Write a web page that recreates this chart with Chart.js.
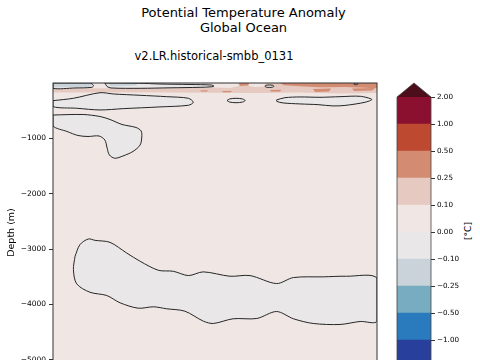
<!DOCTYPE html>
<html><head><meta charset="utf-8">
<script src="https://cdn.jsdelivr.net/npm/chart.js@4.4.1/dist/chart.umd.min.js"></script>
<style>
html,body{margin:0;padding:0;width:480px;height:360px;overflow:hidden;background:#fff;font-family:"DejaVu Sans",sans-serif;}
#main{position:absolute;left:0;top:0;}
#cbar{position:absolute;left:380px;top:0;}
.t{position:absolute;white-space:nowrap;color:#000;transform:translate(-50%,-50%);line-height:1;}
</style></head><body>
<div class="t" style="left:243.5px;top:12px;font-size:13px">Potential Temperature Anomaly</div>
<div class="t" style="left:243.5px;top:27px;font-size:13px">Global Ocean</div>
<div class="t" style="left:214px;top:57px;font-size:11.5px">v2.LR.historical-smbb_0131</div>
<div class="t" style="left:468px;top:231px;font-size:9px;transform:translate(-50%,-50%) rotate(-90deg)">[°C]</div>
<canvas id="main" width="480" height="420" style="width:480px;height:420px"></canvas>
<canvas id="cbar" width="100" height="420" style="width:100px;height:420px"></canvas>
<script>
// ---- data ----
const levels = [-2, -1, -0.5, -0.25, -0.1, 0, 0.1, 0.25, 0.5, 1, 2];
const depthTicks = [-1000, -2000, -3000, -4000, -5000];
const bandColors = ['#283f9c','#2a7bbd','#78acc0','#cad3da','#e9e7e8','#f0e7e5','#e6c9c0','#d38b72','#bd4931','#8b1030'];
const overColor = '#4c0e1a';

// regions: [x (% of record), depth (m)]
const pinkTop = [[0,-96],[29.9,-99],[49.1,-81],[50.3,0],[100,0],[100,-181],[88.6,-190],[76.2,-171],[63.9,-181],[50,-177],[36.1,-171],[20.7,-168],[8.3,-171],[0,-171]];
const gapA = [[49.1,0],[57.1,0],[57.4,-54],[54.6,-90],[49.7,-81]];
const gapB = [[60.5,0],[65.7,0],[65.1,-63],[62.3,-72],[60.5,-54]];
const warm1 = [[57.4,0],[60.5,0],[60.2,-45],[57.7,-54]];
const warm2 = [[70.1,0],[100,0],[100,-95],[96.3,-85],[90.1,-70],[82.4,-78],[76.2,-60],[71.3,-40]];
const warm3 = [[80.2,-108],[85.8,-99],[85.2,-153],[80.9,-162]];
const warm4 = [[92.3,-99],[99.4,-90],[98.5,-135],[92.9,-144]];
const warm5 = [[45.4,-135],[47.8,-132],[47.5,-153],[45.7,-155]];
const warm6 = [[52.2,-144],[55.2,-144],[54.9,-168],[52.5,-168]];
const warm7 = [[67.0,-126],[70.4,-123],[70.1,-153],[67.3,-153]];
const cool1 = [[0,0],[11.1,0],[12.0,-36],[11.1,-72],[0,-76]];
const cool2 = [[17.4,0],[26.2,0],[25.6,-45],[18.2,-63],[17.2,-40]];
const surfLeft = [[0,0],[11.4,0],[12.5,-45],[12.0,-78],[6.8,-90],[0,-96]];
const surfMid = [[16.0,0],[16.7,-63],[17.9,-90],[26.9,-96],[36.1,-87],[45.4,-78],[48.8,-69],[49.7,-54],[48.8,-36],[42.3,-27],[33.0,-18],[26.5,-4]];
const upperBand = [[0,-319],[6.3,-276],[14.5,-175],[18.6,-198],[26.9,-222],[35.1,-247],[41.8,-276],[43.3,-348],[41.8,-402],[33.0,-432],[21.7,-463],[14.5,-487],[7.3,-456],[0,-427]];
const leftBlob = [[0,-578],[9.3,-569],[14.5,-605],[17.6,-659],[21.3,-749],[25.6,-803],[27.2,-866],[27.4,-975],[26.9,-1119],[24.7,-1236],[21.6,-1318],[19.1,-1359],[17.4,-1300],[16.7,-1173],[16.0,-1029],[14.2,-957],[10.8,-966],[7.7,-948],[4.3,-875],[0,-776]];
const smallLens = [[53.7,-316],[54.5,-288],[56.5,-276],[58.5,-288],[59.3,-316],[58.5,-344],[56.5,-356],[54.5,-344]];
const rightLens = [[69.0,-306],[71.6,-265],[76.2,-252],[82.4,-258],[88.6,-247],[94.8,-240],[98.4,-297],[96.3,-348],[90.1,-405],[86.4,-414],[81.8,-391],[76.2,-378],[71.0,-360],[69.1,-333]];
const deepCore = [[6.8,-3130],[8.3,-2920],[10.9,-2817],[13.0,-2842],[17.6,-2878],[22.7,-3069],[26.9,-3220],[32.5,-3382],[37.1,-3400],[41.8,-3478],[46.4,-3411],[54.6,-3490],[60.8,-3478],[69.0,-3622],[74.2,-3514],[83.4,-3501],[90.6,-3490],[100,-3526],[100,-4301],[94.8,-4307],[88.6,-4361],[80.3,-4343],[74.2,-4258],[69.0,-4127],[62.9,-4253],[55.6,-4258],[49.5,-4343],[46.4,-4301],[40.7,-4121],[35.1,-4078],[31.0,-4042],[26.3,-4067],[20.7,-3970],[16.6,-3838],[11.4,-3779],[7.3,-3627],[6.3,-3370]];
const dotA = [[65.4,-58],[65.8,-42],[66.8,-36],[67.8,-42],[68.2,-58],[67.8,-74],[66.8,-80],[65.8,-74]];
const dotB = [[92.8,-16],[93.5,0],[94.2,-16],[93.5,-32]];

// ---- build ----
const fills = [
  {pts: pinkTop, band: 6, layer: 1},
  {pts: gapA, band: 5, layer: 2}, {pts: gapB, band: 5, layer: 2},
  {pts: warm1, band: 7, layer: 3}, {pts: warm2, band: 7, layer: 3}, {pts: warm3, band: 7, layer: 3},
  {pts: warm4, band: 7, layer: 3}, {pts: warm5, band: 7, layer: 3}, {pts: warm6, band: 7, layer: 3}, {pts: warm7, band: 7, layer: 3},
  {pts: surfLeft, band: 4, layer: 4, c: true}, {pts: surfMid, band: 4, layer: 4, c: true},
  {pts: upperBand, band: 4, layer: 4, c: true}, {pts: leftBlob, band: 4, layer: 4, c: true},
  {pts: smallLens, band: 4, layer: 4, c: true}, {pts: rightLens, band: 4, layer: 4, c: true},
  {pts: deepCore, band: 4, layer: 4, c: true}, {pts: dotA, band: 4, layer: 4, c: true}, {pts: dotB, band: 4, layer: 4, c: true},
  {pts: cool1, band: 3, layer: 5}, {pts: cool2, band: 3, layer: 5}
];
const toXY = pts => pts.concat([pts[0]]).map(p => ({x: p[0], y: p[1]}));
const datasets = [];
fills.forEach(r => {
  datasets.push({data: toXY(r.pts), showLine: true, pointRadius: 0, borderWidth: 0, borderColor: 'rgba(0,0,0,0)',
    backgroundColor: bandColors[r.band], fill: 'shape', tension: r.c ? 0.3 : 0, order: -r.layer});
  if (r.c) datasets.push({data: toXY(r.pts), showLine: true, pointRadius: 0, borderWidth: 1, borderColor: '#262626',
    fill: false, tension: 0.3, order: -10});
});
const fmtMinus = s => String(s).replace('-', '\u2212');

const bgPlugin = {id: 'bg', beforeDatasetsDraw(c) {
  const a = c.chartArea, x = c.ctx; x.save(); x.fillStyle = bandColors[5];
  x.fillRect(a.left, a.top, a.right - a.left, a.bottom - a.top); x.restore(); }};
const framePlugin = {id: 'frame', afterDatasetsDraw(c) {
  const a = c.chartArea, x = c.ctx; x.save(); x.strokeStyle = '#333'; x.lineWidth = 1;
  x.strokeRect(a.left, a.top, a.right - a.left, a.bottom - a.top); x.restore(); }};

new Chart(document.getElementById('main'), {
  type: 'scatter',
  data: {datasets},
  options: {
    responsive: false, animation: false, events: [],
    layout: {padding: {left: 0, top: 83, right: 103, bottom: 38}},
    plugins: {legend: {display: false}, tooltip: {enabled: false}},
    scales: {
      x: {type: 'linear', min: 0, max: 100, display: false},
      y: {type: 'linear', min: -5400, max: 0,
        afterFit: s => { s.width = 53; },
        afterBuildTicks: s => { s.ticks = depthTicks.map(v => ({value: v})); },
        ticks: {callback: v => fmtMinus(v), font: {family: 'DejaVu Sans', size: 7.5}, color: '#000', padding: 3},
        grid: {drawOnChartArea: false, tickLength: 4, color: '#000', lineWidth: 0.8},
        border: {display: false},
        title: {display: true, text: 'Depth (m)', font: {family: 'DejaVu Sans', size: 9.5}, color: '#000', padding: {top: 6, bottom: 0}}
      }
    }
  },
  plugins: [bgPlugin, framePlugin]
});

const cbPlugin = {id: 'cb', afterDatasetsDraw(c) {
  const a = c.chartArea, y = c.scales.y, x = c.ctx;
  const yb = y.getPixelForValue(levels.length - 1), yt = y.getPixelForValue(y.max);
  x.save();
  x.fillStyle = overColor; x.beginPath();
  x.moveTo(a.left, yb); x.lineTo((a.left + a.right) / 2, yt); x.lineTo(a.right, yb); x.closePath(); x.fill();
  x.strokeStyle = '#444'; x.lineWidth = 0.8; x.beginPath();
  x.moveTo(a.left, a.bottom + 20); x.lineTo(a.left, yb); x.lineTo((a.left + a.right) / 2, yt);
  x.lineTo(a.right, yb); x.lineTo(a.right, a.bottom + 20); x.stroke();
  x.restore(); }};

new Chart(document.getElementById('cbar'), {
  type: 'bar',
  data: {labels: [''], datasets: bandColors.map((col, i) => ({data: [[i, i + 1]], backgroundColor: col, borderWidth: 0,
    barPercentage: 1, categoryPercentage: 1, grouped: false}))},
  options: {
    responsive: false, animation: false, events: [],
    layout: {padding: {left: 17, top: 83, right: 0, bottom: 53}},
    plugins: {legend: {display: false}, tooltip: {enabled: false}},
    scales: {
      x: {display: false},
      y: {position: 'right', min: 0, max: 10.52,
        afterFit: s => { s.width = 49; },
        afterBuildTicks: s => { s.ticks = levels.map((v, i) => ({value: i})); },
        ticks: {callback: v => fmtMinus(levels[v].toFixed(2)), font: {family: 'DejaVu Sans', size: 7.2}, color: '#000', padding: 2},
        grid: {drawOnChartArea: false, tickLength: 4, color: '#000', lineWidth: 0.8},
        border: {display: false}
      }
    }
  },
  plugins: [cbPlugin]
});
</script>
</body></html>
